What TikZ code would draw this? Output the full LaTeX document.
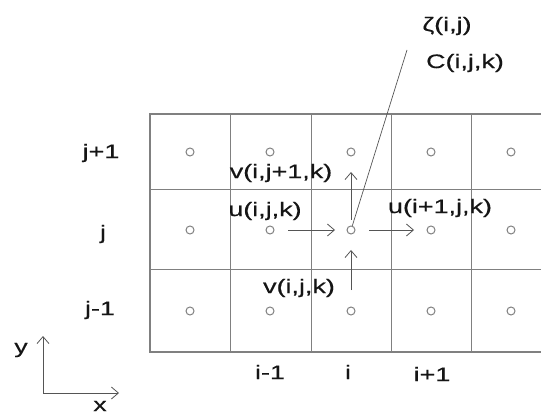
\documentclass[tikz,border=0pt]{standalone}
\usepackage{fontspec}
\setmainfont{Liberation Sans}
\newfontfamily\widesans[FakeStretch=1.38,FakeBold=0.4]{Liberation Sans}
\usetikzlibrary{arrows.meta}
\definecolor{gridgray}{HTML}{808080}
\definecolor{inkgray}{HTML}{555555}
\definecolor{textblack}{HTML}{151515}

\tikzset{
  cellpt/.style={circle,draw=gridgray,inner sep=0pt,minimum size=8pt,line width=1pt},
  flux/.style={draw=inkgray,line width=0.8pt,-{Straight Barb[length=7pt,width=12pt]}},
  lbl/.style={font=\widesans\fontsize{19.5}{22}\selectfont,text=textblack,inner sep=0pt},
}

\begin{document}
\begin{tikzpicture}[x=1pt,y=-1pt]
    % picture frame in pixel units of the reference
    \useasboundingbox (0,0) rectangle (541,414);

    % grid of cells
    \draw[gridgray,line width=1.1pt] (150,114) rectangle (551,352);
    \foreach \x in {230,311,391,471} {
      \draw[gridgray,line width=1pt] (\x,114) -- (\x,352);
    }
    \foreach \y in {190,270} {
      \draw[gridgray,line width=1pt] (150,\y) -- (551,\y);
    }

    % cell centres
    \foreach \x [count=\i] in {190,270,351,431,511} {
      \foreach \y [count=\j] in {152,230,311} {
        \node[cellpt] (c-\i-\j) at (\x,\y) {};
      }
    }

    % velocity arrows round the centre cell
    \draw[flux] ([xshift=-63pt]c-3-2.center) -- ([xshift=-16pt]c-3-2.center);
    \draw[flux] ([xshift=18pt]c-3-2.center) -- ([xshift=63pt]c-3-2.center);
    \draw[flux] ([yshift=10pt]c-3-2.center) -- ([yshift=58pt]c-3-2.center);
    \draw[flux] ([yshift=-60pt]c-3-2.center) -- ([yshift=-20pt]c-3-2.center);

    % leader to the scalar labels
    \coordinate (lead) at (407,50);
    \draw[inkgray,line width=0.7pt] (c-3-2) -- (lead);
    \node[lbl] (zeta) at (447,26) {ζ(i,j)};
    \node[lbl] (conc) at (465,63) {C(i,j,k)};

    % velocity labels
    \node[lbl] (v-top) at (281,173) {v(i,j+1,k)};
    \node[lbl] (u-west) at (265,211) {u(i,j,k)};
    \node[lbl] (u-east) at (440,208) {u(i+1,j,k)};
    \node[lbl] (v-south) at (299,288) {v(i,j,k)};

    % row and column indices
    \node[lbl] (row-a) at (101,153) {j+1};
    \node[lbl] (row-b) at (103,234) {j};
    \node[lbl] (row-c) at (100,310) {j-1};
    \node[lbl] (col-a) at (270,372) {i-1};
    \node[lbl] (col-b) at (348,372) {i};
    \node[lbl] (col-c) at (432,374) {i+1};

    % axes
    \coordinate (orig) at (43,393);
    \coordinate (y-end) at (43,336);
    \coordinate (x-end) at (119,393);
    \draw[flux] (orig) -- (y-end);
    \draw[flux] (orig) -- (x-end);
    \node[lbl] (y-lbl) at (21,350) {y};
    \node[lbl] (x-lbl) at (100,406) {x};
\end{tikzpicture}
\end{document}
